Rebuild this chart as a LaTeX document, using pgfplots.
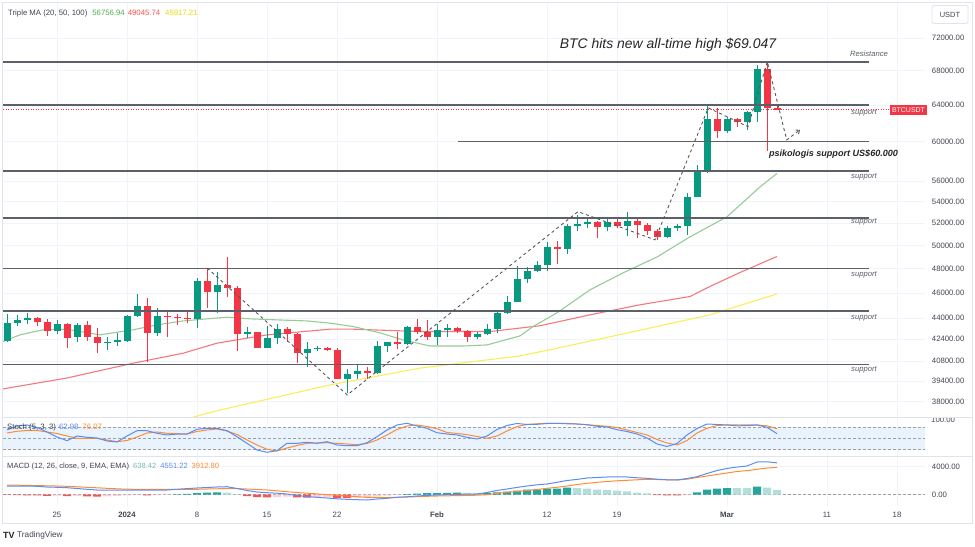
\documentclass[border=0pt]{standalone}
\usepackage{pgfplots}
\pgfplotsset{compat=1.18}
\usepackage{pgfplotstable}
\usepackage{fontspec}
\setmainfont{Liberation Sans}
\usetikzlibrary{arrows.meta}

\definecolor{cup}{RGB}{8,153,129}
\definecolor{cdn}{RGB}{242,54,69}
\definecolor{ma20}{RGB}{150,205,150}
\definecolor{ma50}{RGB}{245,120,125}
\definecolor{ma100}{RGB}{250,238,90}
\definecolor{ma20t}{RGB}{76,175,80}
\definecolor{ma50t}{RGB}{255,82,82}
\definecolor{ma100t}{RGB}{235,220,0}
\definecolor{gridc}{RGB}{240,243,250}
\definecolor{framec}{RGB}{224,227,235}
\definecolor{txt}{RGB}{67,70,81}
\definecolor{lvl}{RGB}{93,96,107}
\definecolor{kblue}{RGB}{91,139,245}
\definecolor{dorange}{RGB}{255,140,50}
\definecolor{band}{RGB}{232,243,253}
\definecolor{hup}{RGB}{38,166,154}
\definecolor{hupl}{RGB}{178,223,219}
\definecolor{hdn}{RGB}{255,82,82}
\definecolor{hdnl}{RGB}{255,205,210}
\definecolor{histtxt}{RGB}{120,190,180}

\pgfplotstableread{
d O H L C
-5 42300 44350 42200 43660
-4 43660 44250 43410 43880
-3 43880 44400 43560 44030
0 43050 43870 42780 43560
2 42560 43660 42160 43460
5 42110 42600 41620 42180
6 42180 42860 41930 42350
7 42280 44250 42180 44180
8 44180 45900 44130 44960
10 42900 44780 42680 44180
14 43950 47210 43230 47010
16 46110 47710 44390 46660
19 42800 43310 42460 42930
21 41780 43410 41740 42530
22 42530 43530 42040 43180
25 41360 42160 40410 41670
26 41670 41930 41560 41780
29 39560 40230 38550 39920
30 39920 40540 39560 40130
32 39980 42280 39870 41910
33 41910 42230 41490 42160
35 42060 43410 41970 43360
38 42570 43560 41950 43100
39 43100 43530 42600 43230
42 42570 42910 42400 42780
43 42780 43560 42700 43170
44 43170 44470 42850 44390
45 44390 45720 44330 45310
46 45310 48240 45250 47130
47 47130 48180 46840 47820
48 47820 48620 47690 48340
49 48340 50340 47840 49890
51 49660 51930 49270 51700
52 51700 52730 51330 51950
53 51950 52460 51550 52150
55 51640 52370 51250 52150
57 51790 53070 50840 52230
61 50730 51750 50640 51540
62 51540 51930 51330 51750
63 51750 54880 50930 54500
64 54500 57600 54440 57040
65 57040 63880 56840 62440
67 61130 62660 60890 62440
69 62080 63300 61230 63180
70 63180 68640 62180 68240
}\upT

\pgfplotstableread{
d O H L C
-2 44030 44080 43410 43720
-1 43720 43920 42650 43050
1 43560 43660 41740 42530
3 43460 43790 42300 42600
4 42600 43230 41370 42110
9 44960 45570 40770 42900
11 44180 44650 42560 44130
12 44130 44350 43490 44000
13 44000 44520 43660 43950
15 47010 48040 44780 46110
17 46660 49040 45710 46380
18 46380 46570 41560 42800
20 42930 42980 41740 41780
23 43180 43310 42200 42800
24 42800 42860 40700 41360
27 41780 41860 41540 41620
28 41620 41740 39510 39560
31 40130 40360 39560 39980
34 42160 42910 41670 42060
36 43360 43920 42780 42970
37 42970 43870 42350 42570
40 43230 43360 42850 43020
41 43020 43130 42180 42570
50 49890 50420 48380 49660
54 52150 52230 50640 51640
56 52150 52460 51550 51790
58 52230 52370 50640 51830
59 51830 52040 50930 51290
60 51290 51450 50500 50730
66 62440 63640 60390 61130
68 62440 62520 61590 62080
71 68240 69047 59080 63720
72 63720 63850 63450 63500
}\dnT

\pgfplotstableread{
d K D
-5 72.9 64.8
-4 83.6 69.4
-3 86.3 71.5
-2 79.6 71.5
-1 67.5 67.5
0 54.1 63.5
1 44.2 56.8
2 56.8 50.6
3 53.3 50.6
4 51.4 50.6
5 43.4 46.1
6 40.7 41.5
7 56.8 44.7
8 71.0 54.1
9 71.0 64.8
10 64.0 67.5
11 59.5 64.0
12 62.1 63.0
13 62.1 62.1
14 74.7 68.8
15 77.4 72.9
16 77.4 75.5
17 71.0 70.2
18 54.9 60.8
19 37.2 46.1
20 19.3 32.7
21 13.1 21.2
22 17.4 16.6
23 37.2 24.6
24 37.2 31.3
25 39.9 37.2
26 37.2 38.0
27 41.5 38.8
28 32.7 37.2
29 30.8 35.4
30 30.8 33.5
31 38.8 36.7
32 54.9 46.1
33 72.9 59.5
34 86.3 74.2
35 90.8 83.6
36 83.6 86.3
37 77.4 82.2
38 65.6 76.3
39 62.1 66.2
40 59.5 63.5
41 53.3 60.3
42 48.8 55.5
43 56.8 50.6
44 74.2 56.8
45 84.9 70.2
46 90.3 82.2
47 87.6 87.6
48 88.1 89.5
49 90.3 90.8
50 90.8 90.8
51 89.5 90.8
52 88.9 88.9
53 87.1 86.8
54 82.8 84.9
55 80.9 82.8
56 73.7 79.6
57 68.8 72.9
58 62.1 66.2
59 51.4 59.5
60 35.4 47.4
61 28.7 38.0
62 36.7 32.7
63 59.5 44.7
64 76.9 64.8
65 88.9 77.4
66 87.6 84.9
67 86.3 86.3
68 84.1 86.3
69 84.4 86.3
70 86.3 86.3
71 80.1 84.1
72 63.0 76.1
}\stochT

\pgfplotstableread{
d M S
-5 1243 1386
-4 1243 1357
-3 1243 1329
-2 1200 1300
-1 1100 1271
0 1057 1243
1 1000 1200
2 886 1129
3 771 1057
4 671 986
5 671 914
6 671 843
7 671 786
8 671 771
9 671 771
10 671 771
11 671 771
12 771 771
13 871 771
14 957 771
15 1029 814
16 1100 843
17 1143 900
18 886 871
19 600 814
20 386 743
21 286 671
22 214 557
23 100 429
24 -114 314
25 -257 214
26 -371 114
27 -471 14
28 -586 -86
29 -657 -186
30 -714 -286
31 -757 -371
32 -614 -400
33 -514 -400
34 -371 -371
35 -300 -329
36 -186 -286
37 -100 -229
38 -43 -186
39 0 -157
40 57 -129
41 71 -100
42 100 -71
43 314 0
44 600 171
45 814 357
46 1043 457
47 1243 600
48 1414 743
49 1529 914
50 1771 1057
51 2029 1243
52 2186 1457
53 2386 1629
54 2457 1771
55 2529 1886
56 2557 1986
57 2529 2057
58 2414 2129
59 2343 2200
60 2214 2171
61 2129 2129
62 2100 2100
63 2314 2214
64 2571 2457
65 3029 2671
66 3457 2886
67 3743 3100
68 3957 3314
69 4100 3443
70 4671 3629
71 4700 3814
72 4551 3913
}\macdT

\pgfplotsset{
  tvpane/.style={
    scale only axis, width=922bp,
    xmin=-5.4, xmax=86.8,
    xtick={0,7,14,21,28,38,49,56,67,77,84},
    axis line style={draw=none},
    major tick length=0pt,
    tick style={draw=none},
    grid style={gridc, line width=0.7bp},
    ticklabel style={font=\fontsize{7.8}{9}\selectfont, text=txt},
    yticklabel style={anchor=west, xshift=3.4bp},
  },
  candle/.style 2 args={draw=none, mark=none, forget plot,
    error bars/.cd, y dir=plus, y explicit, error mark=none,
    error bar style={draw=#1, line width=#2}},
}

\begin{document}
\begin{tikzpicture}
\useasboundingbox (0,0) rectangle (975bp,547bp);
\fill[white] (0,0) rectangle (975bp,547bp);
\draw[framec, line width=0.8bp] (2bp,24bp) rectangle (972bp,545bp);

% ---------------- price pane ----------------
\begin{axis}[tvpane,
  at={(3bp,544bp)}, anchor=north west,
  height=414.7bp,
  ymode=log, ymin=36945, ymax=76612,
  ytick={72000,68000,64000,60000,56000,54000,52000,50000,48000,46000,44000,42400,40800,39400,38000},
  yticklabels={72000.00,68000.00,64000.00,60000.00,56000.00,54000.00,52000.00,50000.00,48000.00,46000.00,44000.00,42400.00,40800.00,39400.00,38000.00},
  yticklabel pos=right,
  xticklabels={},
  grid=major,
]
% moving averages
\addplot[ma100, line width=1.1bp] coordinates {(12,36700) (16.3,37440) (27.3,39130) (36.3,40300) (46.3,41180) (49.6,41670) (58.3,43080) (65.3,44260) (72,45917)};
\addplot[ma50, line width=1.1bp] coordinates {(-5.4,38860) (1,39610) (7.6,40650) (12.6,41370) (16,42110) (21,42730) (27.3,43160) (29.6,43160) (36.3,42980) (43.3,42980) (48.3,43420) (53.3,44260) (58.3,45050) (63.3,45710) (65.3,46530) (68.3,47680) (72,49046)};
\addplot[ma20, line width=1.1bp] coordinates {(-5.4,42240) (-3.7,42730) (-1.4,43110) (1,43160) (4.3,42730) (7.6,43110) (10,43490) (12.6,43790) (15,43950) (17,44080) (19.3,43950) (22,43870) (25,43790) (27.3,43620) (29.6,43360) (32.3,42880) (34.6,42350) (37.3,41900) (40.6,41900) (43,41980) (46.3,42650) (47.6,43360) (50,44420) (53.3,46250) (56.6,47650) (60,49000) (63.3,50770) (67,52590) (70.3,55430) (72,56757)};
% last price line
\addplot[cdn, line width=0.7bp, dash pattern=on 1bp off 1.5bp] coordinates {(-5.4,63500) (83.3,63500)};
% candles: wicks
\addplot[candle={cup}{1bp}] table[x=d, y=L, y error expr=\thisrow{H}-\thisrow{L}] {\upT};
\addplot[candle={cdn}{1bp}] table[x=d, y=L, y error expr=\thisrow{H}-\thisrow{L}] {\dnT};
% candles: bodies
\addplot[candle={cup}{7bp}] table[x=d, y=O, y error expr=\thisrow{C}-\thisrow{O}] {\upT};
\addplot[candle={cdn}{7bp}] table[x=d, y=C, y error expr=\thisrow{O}-\thisrow{C}] {\dnT};
% horizontal levels
\addplot[lvl, line width=1.5bp] coordinates {(-5.4,69047) (81.2,69047)};
\addplot[lvl, line width=1.5bp] coordinates {(-5.4,64000) (81.2,64000)};
\addplot[lvl, line width=1.2bp] coordinates {(40.1,60000) (81.2,60000)};
\addplot[lvl, line width=1.5bp] coordinates {(-5.4,57000) (81.2,57000)};
\addplot[lvl, line width=1.5bp] coordinates {(-5.4,52500) (81.2,52500)};
\addplot[lvl, line width=1.5bp] coordinates {(-5.4,48000) (81.2,48000)};
\addplot[lvl, line width=1.5bp] coordinates {(-5.4,44550) (81.2,44550)};
\addplot[lvl, line width=1.5bp] coordinates {(-5.4,40550) (81.2,40550)};
% drawn path
\addplot[black!65, line width=0.9bp, dash pattern=on 3bp off 3bp, -{Straight Barb[length=3bp,width=5bp]}] coordinates {(15.03,48050) (29.03,38450) (52.1,53070) (59.8,50500) (65.13,63700) (69.1,61620) (71.03,69090) (72.97,60210) (74.3,61280)};
\end{axis}

% ---------------- stochastic pane ----------------
\begin{axis}[tvpane,
  at={(3bp,129.3bp)}, anchor=north west,
  height=39bp,
  ymin=1.3, ymax=105.8,
  ytick=\empty, xticklabels={},
  xmajorgrids,
]
\addplot[draw=none, fill=band, forget plot] coordinates {(-5.4,20) (86.8,20) (86.8,80) (-5.4,80)} -- cycle;
\addplot[gray!75, line width=0.7bp, dash pattern=on 2.5bp off 2.5bp] coordinates {(-5.4,80) (86.8,80)};
\addplot[gray!75, line width=0.7bp, dash pattern=on 2.5bp off 2.5bp] coordinates {(-5.4,50) (86.8,50)};
\addplot[gray!75, line width=0.7bp, dash pattern=on 2.5bp off 2.5bp] coordinates {(-5.4,20) (86.8,20)};
\addplot[dorange, line width=1bp] table[x=d, y=D] {\stochT};
\addplot[kblue, line width=1bp] table[x=d, y=K] {\stochT};
\end{axis}

% ---------------- MACD pane ----------------
\begin{axis}[tvpane,
  at={(3bp,90.3bp)}, anchor=north west,
  height=49.3bp,
  ymin=-1614, ymax=5429,
  ytick={0,4000}, yticklabels={0.00,4000.00},
  yticklabel pos=right,
  xticklabels={25,\textbf{2024},8,15,22,\textbf{Feb},12,19,\textbf{Mar},11,18},
  xticklabel style={yshift=-2.5bp},
  grid=major,
]
\addplot[gray!75, line width=0.7bp, dash pattern=on 2.5bp off 2.5bp] coordinates {(-5.4,0) (86.8,0)};
\addplot[ybar, bar width=8bp, bar shift=0pt, fill=hdn, draw=none] coordinates {(-5,-40) (-4,-70) (-3,-90) (-2,-100) (-1,-170) (1,-200) (3,-240) (4,-280) (9,-100) (19,-200) (20,-350) (21,-390) (24,-380) (25,-420) (28,-450) (29,-470) (60,-50) (61,-95) (62,-100)};
\addplot[ybar, bar width=8bp, bar shift=0pt, fill=hdnl, draw=none] coordinates {(0,-120) (2,-150) (5,-250) (6,-170) (7,-110) (8,-60) (10,-60) (11,-30) (22,-330) (23,-280) (26,-400) (27,-380) (30,-420) (31,-380) (32,-250) (33,-130) (34,-20) (63,-50)};
\addplot[ybar, bar width=8bp, bar shift=0pt, fill=hup, draw=none] coordinates {(12,40) (13,110) (14,230) (15,290) (16,330) (35,100) (36,160) (37,210) (38,240) (39,270) (40,290) (43,240) (44,333) (45,429) (46,571) (47,714) (48,730) (49,857) (50,870) (51,1000) (64,333) (65,714) (66,857) (67,952) (70,1143)};
\addplot[ybar, bar width=8bp, bar shift=0pt, fill=hupl, draw=none] coordinates {(17,310) (18,60) (41,260) (42,230) (52,950) (53,860) (54,714) (55,667) (56,571) (57,476) (58,286) (59,190) (68,940) (69,930) (71,1000) (72,638)};
\addplot[dorange, line width=1bp] table[x=d, y=S] {\macdT};
\addplot[kblue, line width=1bp] table[x=d, y=M] {\macdT};
\end{axis}

% pane separators
\draw[framec, line width=0.8bp] (2bp,129.3bp) -- (972bp,129.3bp);
\draw[framec, line width=0.8bp] (2bp,90.3bp) -- (972bp,90.3bp);

% partially hidden stoch scale label
\begin{scope}
\clip (926bp,119bp) rectangle (975bp,128.8bp);
\node[font=\fontsize{7.8}{9}\selectfont, text=txt, anchor=west, inner sep=0pt] at (931bp,127bp) {100.00};
\end{scope}

% legends
\node[anchor=west, inner sep=0pt, font=\fontsize{7.8}{9}\selectfont, text=txt] at (8bp,534bp)
  {Triple MA (20, 50, 100)\hspace{5bp}\textcolor{ma20t}{56756.94}\hspace{3bp}\textcolor{ma50t}{49045.74}\hspace{5bp}\textcolor{ma100t}{45917.21}};
\node[anchor=west, inner sep=0pt, font=\fontsize{7.8}{9}\selectfont, text=txt] at (7bp,120bp)
  {Stoch (5, 3, 3)\hspace{3bp}\textcolor{kblue}{62.98}\hspace{4bp}\textcolor{dorange}{76.07}};
\node[anchor=west, inner sep=0pt, font=\fontsize{7.6}{9}\selectfont, text=txt] at (7bp,80.3bp)
  {MACD (12, 26, close, 9, EMA, EMA)\hspace{4bp}\textcolor{histtxt}{638.42}\hspace{4bp}\textcolor{kblue}{4551.22}\hspace{4bp}\textcolor{dorange}{3912.80}};

% annotations
\node[font=\fontsize{14}{16}\selectfont\itshape, text=black!85] at (668bp,502bp) {BTC hits new all-time high \$69.047};
\node[font=\fontsize{9.1}{11}\selectfont\bfseries\itshape, text=black!85] at (833.5bp,393bp) {psikologis support US\$60.000};
\node[font=\fontsize{7.7}{9}\selectfont\itshape, text=lvl] at (869bp,493bp) {Resistance};
\foreach \yy in {434,370,324.7,271.7,228.7,177}{
  \node[font=\fontsize{7.7}{9}\selectfont\itshape, text=lvl] at (864bp,\yy bp) {support};
}

% last price tag
\node[fill=cdn, text=white, font=\fontsize{7}{8}\selectfont, inner sep=0pt, minimum height=10bp, minimum width=37bp] at (908.5bp,437bp) {BTCUSDT};

% currency box
\node[draw=framec, rounded corners=2bp, line width=0.8bp, minimum width=36bp, minimum height=18bp, inner sep=0pt, font=\fontsize{7.5}{9}\selectfont, text=txt] at (950bp,532.5bp) {USDT};

% logo
\node[anchor=west, inner sep=0pt, font=\fontsize{9}{10}\selectfont\bfseries, text=black!85] at (3bp,11.5bp) {TV};
\node[anchor=west, inner sep=0pt, font=\fontsize{8.3}{10}\selectfont, text=txt] at (17bp,11.5bp) {TradingView};
\end{tikzpicture}
\end{document}
